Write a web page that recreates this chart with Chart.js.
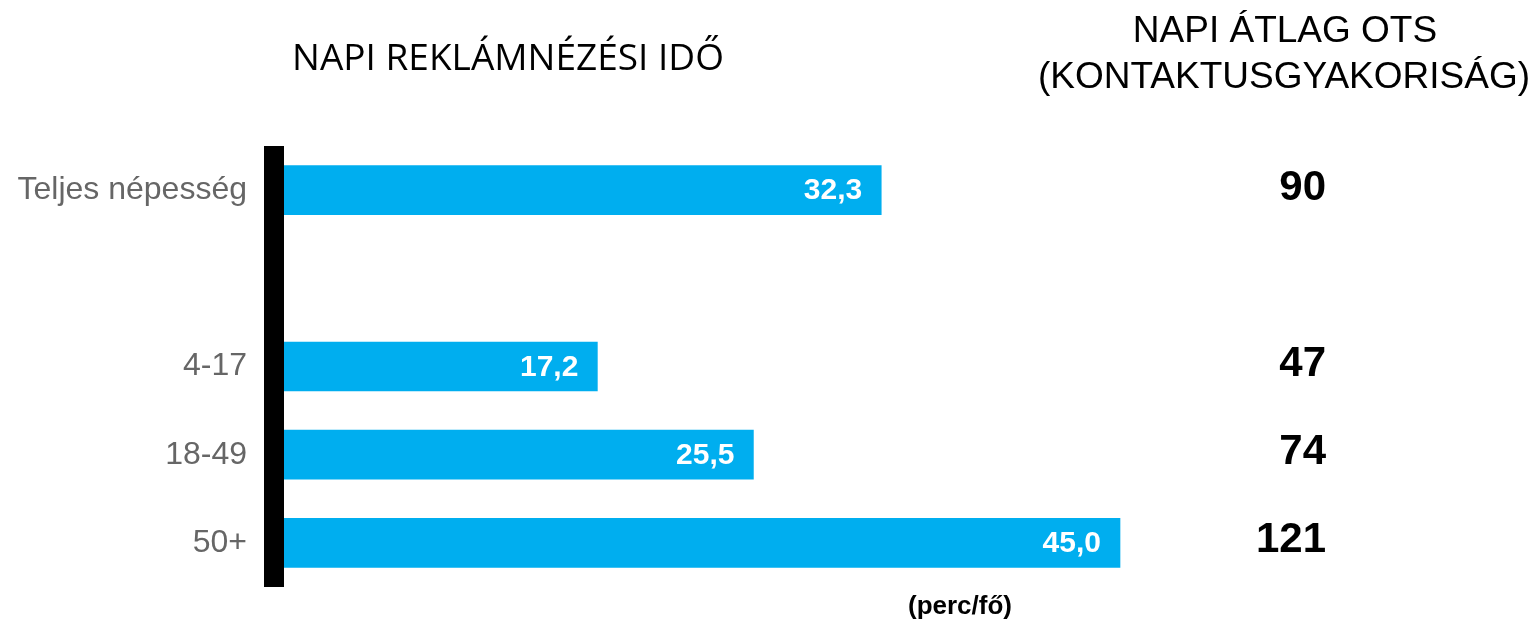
<!DOCTYPE html>
<html>
<head>
<meta charset="utf-8">
<script src="https://cdn.jsdelivr.net/npm/chart.js@4"></script>
<style>
  html, body { margin: 0; padding: 0; background: #fff; }
  #wrap { width: 1536px; height: 623px; }
</style>
</head>
<body>
<div id="wrap"><canvas id="c" width="1536" height="623"></canvas></div>
<script>
/* napi reklámnézési idő (perc/fő) + napi átlag OTS */
var categories = ['Teljes népesség', '', '4-17', '18-49', '50+'];
var minutes    = [32.3, null, 17.2, 25.5, 45.0];
var ots        = [90, null, 47, 74, 121];

var BLUE = '#00AEEF';

function fmt(v) { return v.toFixed(1).replace('.', ','); }

// feliratok: címek, értékek a sávokon, OTS oszlop
var overlay = {
  id: 'overlay',
  afterDatasetsDraw: function(chart) {
    var ctx = chart.ctx;
    var meta = chart.getDatasetMeta(0);
    var y = chart.scales.y;
    ctx.save();

    // értékek a sávok végén
    ctx.fillStyle = '#fff';
    ctx.font = 'bold 30px "Liberation Sans", Arial, sans-serif';
    ctx.textAlign = 'right';
    ctx.textBaseline = 'middle';
    meta.data.forEach(function(bar, i) {
      if (minutes[i] == null) return;
      ctx.fillText(fmt(minutes[i]), bar.x - 19, bar.y + 1);
    });

    // OTS számok
    ctx.fillStyle = '#000';
    ctx.font = 'bold 42px "Liberation Sans", Arial, sans-serif';
    ots.forEach(function(v, i) {
      if (v == null) return;
      ctx.fillText(String(v), 1326, y.getPixelForValue(i) - 2);
    });

    // címek
    ctx.textAlign = 'center';
    ctx.textBaseline = 'alphabetic';
    ctx.font = '37px "Open Sans", sans-serif';
    ctx.fillText('NAPI REKLÁMNÉZÉSI IDŐ', 508, 70);
    ctx.font = '37px "Liberation Sans", Arial, sans-serif';
    ctx.fillText('NAPI ÁTLAG OTS', 1285, 42);
    ctx.fillText('(KONTAKTUSGYAKORISÁG)', 1284, 88);

    ctx.font = 'bold 26px "Liberation Sans", Arial, sans-serif';
    ctx.fillText('(perc/fő)', 960, 614);
    ctx.restore();
  }
};

new Chart(document.getElementById('c'), {
  type: 'bar',
  data: {
    labels: categories,
    datasets: [{
      data: minutes,
      backgroundColor: BLUE,
      borderWidth: 0,
      barThickness: 49
    }]
  },
  plugins: [overlay],
  options: {
    indexAxis: 'y',
    responsive: false,
    animation: false,
    layout: { padding: { top: 146, bottom: 36, right: 134, left: 0 } },
    plugins: {
      legend: { display: false },
      tooltip: { enabled: false }
    },
    scales: {
      x: {
        min: 0, max: 60,
        ticks: { display: false },
        border: { display: false },
        grid: {
          drawTicks: false,
          z: 1,
          color: function(c) { return c.tick && c.tick.value === 0 ? '#000' : 'rgba(0,0,0,0)'; },
          lineWidth: function(c) { return c.tick && c.tick.value === 0 ? 20 : 0; }
        }
      },
      y: {
        border: { display: false },
        grid: { display: false, drawTicks: false },
        ticks: {
          padding: 27,
          color: '#666',
          font: { family: '"Liberation Sans", Arial, sans-serif', size: 32 }
        },
        afterFit: function(s) {
          s.width = 274;
          s.paddingTop = 0;
          s.paddingBottom = 0;
        }
      }
    }
  }
});
</script>
</body>
</html>
